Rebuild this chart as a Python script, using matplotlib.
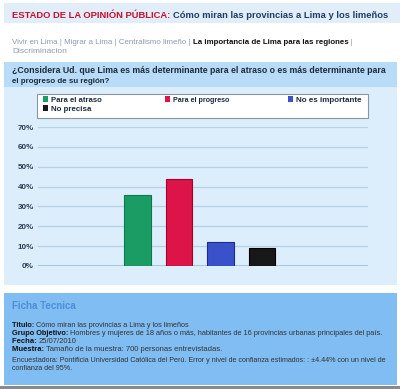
import matplotlib.pyplot as plt
import numpy as np

categories = ['Para el atraso', 'Para el progreso', 'No es importante', 'No precisa']
values = [36, 44, 12, 9]
bar_colors = ['#1a9c64', '#dc1447', '#3a52c9', '#181818']
edge_colors = ['#0e7a4a', '#a3002b', '#1c2a98', '#000000']
y_ticks = [0, 10, 20, 30, 40, 50, 60, 70]
y_labels = ['%d%%' % t for t in y_ticks]

W, H = 400, 389
fig = plt.figure(figsize=(W / 100, H / 100), dpi=100)
fig.patch.set_facecolor('white')
plt.rcParams['font.family'] = ['Liberation Sans', 'DejaVu Sans']


def fx(x):
    return x / W


def fy(y):
    return 1 - y / H


def band(x0, y0, x1, y1, color, ec='none', lw=0, z=-5):
    fig.patches.append(plt.Rectangle((fx(x0), fy(y1)), fx(x1 - x0), (y1 - y0) / H,
                                     transform=fig.transFigure, facecolor=color,
                                     edgecolor=ec, lw=lw, zorder=z))


renderer = fig.canvas.get_renderer()


def segments(x, y, parts, size, width=None):
    # draw a run of differently styled text pieces one after another,
    # optionally scaled so the whole run spans `width` pixels
    texts = []
    for txt, color, weight in parts:
        texts.append(fig.text(fx(x), fy(y), txt, color=color, fontweight=weight,
                              fontsize=size, va='baseline', ha='left', zorder=5))
    if width:
        total = sum(t.get_window_extent(renderer).width for t in texts)
        for t in texts:
            t.set_fontsize(size * width / total)
    for t in texts:
        t.set_x(fx(x))
        x += t.get_window_extent(renderer).width


# page bands
band(4, 3, 400, 23, '#e1edf8')
band(4, 62, 397, 87, '#b8dbf7')
band(4, 87, 397, 285, '#dcedfb')
band(4, 293, 397, 385, '#7fbdf3')
band(0, 386, 400, 389, '#8a8a8a')

# header
segments(12, 18, [('ESTADO DE LA OPINIÓN PÚBLICA: ', '#c8102e', 'bold'),
                  ('Cómo miran las provincias a Lima y los limeños', '#1f3d6b', 'bold')], 7.6, 376)

# nav links
grey = '#8d9cb0'
segments(12, 44, [('Vivir en Lima | Migrar a Lima | Centralismo limeño | ', grey, 'normal'),
                  ('La importancia de Lima para las regiones', '#111111', 'bold'),
                  (' |', grey, 'normal')], 6.0, 344)
segments(12, 53, [('Discriminacion', grey, 'normal')], 6.0, 55)

# question
qc = '#1c2b3c'
segments(12, 73, [('¿Considera Ud. que Lima es más determinante para el atraso o es más determinante para',
                   qc, 'bold')], 6.4, 377)
segments(12, 83, [('el progreso de su región?', qc, 'bold')], 6.4, 98)

# legend box
band(37, 94, 368, 118, 'white', ec='#8a96a4', lw=0.8, z=1)
leg_pos = [(43, 102), (165, 102), (288, 102), (43, 111)]
leg_w = [51, 56, 65, 40]
for (lx, ly), name, c, lw_ in zip(leg_pos, categories, bar_colors, leg_w):
    band(lx, ly - 6, lx + 5, ly, c, z=2)
    segments(lx + 8, ly, [(name, qc, 'bold')], 5.8, lw_)

# chart axes
ax = fig.add_axes([fx(38), fy(266), fx(368 - 38), (266 - 127) / H])
ax.set_facecolor('none')
x = np.arange(len(categories))
ax.bar(x, values, width=0.64, color=bar_colors, edgecolor=edge_colors, linewidth=0.8, zorder=3)
for t in y_ticks[1:]:
    ax.axhline(t, color='#b5d1e6', lw=0.9, zorder=1)
ax.axhline(0, color='#9fc3df', lw=2.0, zorder=2)
ax.set_xlim(-2.40, 5.55)
ax.set_ylim(0, 70)
ax.set_xticks([])
ax.set_yticks(y_ticks)
ax.set_yticklabels(y_labels, fontsize=5.8, fontweight='bold', color='#2a3a58')
ax.tick_params(axis='y', length=0, pad=3)
for s in ax.spines.values():
    s.set_visible(False)

# ficha tecnica
segments(12, 309, [('Ficha Tecnica', '#4d8fd6', 'bold')], 7.2, 64)
dark = '#333333'
lab = '#111111'
segments(12, 327, [('Titulo: ', lab, 'bold'),
                   ('Cómo miran las provincias a Lima y los limeños', dark, 'normal')], 5.6, 176)
segments(12, 335, [('Grupo Objetivo: ', lab, 'bold'),
                   ('Hombres y mujeres de 18 años o más, habitantes de 16 provincias urbanas principales del país.',
                    dark, 'normal')], 5.6, 374)
segments(12, 343, [('Fecha: ', lab, 'bold'), ('25/07/2010', dark, 'normal')], 5.6, 65)
segments(12, 351, [('Muestra: ', lab, 'bold'),
                   ('Tamaño de la muestra: 700 personas entrevistadas.', dark, 'normal')], 5.6, 211)
segments(12, 362, [('Encuestadora: Pontificia Universidad Católica del Perú. Error y nivel de confianza estimados: : ±4.44% con un nivel de',
                    dark, 'normal')], 5.6, 374)
segments(12, 370, [('confianza del 95%.', dark, 'normal')], 5.6, 60)

fig.savefig('out.png', dpi=100, facecolor=fig.get_facecolor())
